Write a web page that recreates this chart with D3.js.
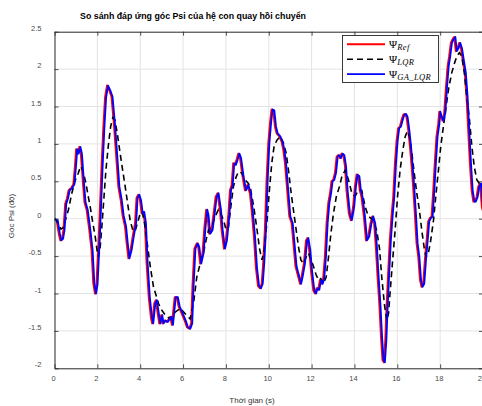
<!DOCTYPE html>
<html>
<head>
<meta charset="utf-8">
<script src="https://cdn.jsdelivr.net/npm/d3@7"></script>
<style>
  html, body { margin: 0; padding: 0; background: #fff; overflow: hidden; }
  svg { display: block; }
</style>
</head>
<body>
<svg id="chart" width="482" height="406"></svg>
<script>
// Tick values
const xTicks = [0, 2, 4, 6, 8, 10, 12, 14, 16, 18, 20];
const yTicks = [-2, -1.5, -1, -0.5, 0, 0.5, 1, 1.5, 2, 2.5];

// Reference trajectory Ψ_Ref: [time (s), angle (deg)]
const refSeries = [
  [0,0],[0.1,-0.02],[0.2,-0.2],[0.27,-0.29],[0.35,-0.27],[0.42,-0.15],[0.5,0.2],[0.58,0.27],
  [0.66,0.38],[0.78,0.41],[0.88,0.46],[0.96,0.72],[1.01,0.93],[1.08,0.87],[1.16,0.96],[1.23,0.87],
  [1.33,0.47],[1.4,0.22],[1.5,0.12],[1.62,-0.14],[1.73,-0.42],[1.81,-0.86],[1.89,-1.0],[1.96,-0.88],
  [2.08,-0.16],[2.2,0.72],[2.28,1.22],[2.36,1.62],[2.45,1.78],[2.55,1.72],[2.66,1.63],[2.77,1.28],
  [2.87,0.88],[2.98,0.43],[3.09,0.25],[3.18,0.04],[3.29,-0.1],[3.37,-0.33],[3.45,-0.53],[3.55,-0.42],
  [3.65,-0.24],[3.76,-0.06],[3.83,0.28],[3.91,0.32],[3.99,0.25],[4.07,0.07],[4.14,0.09],[4.22,-0.06],
  [4.3,-0.6],[4.4,-1.05],[4.5,-1.32],[4.56,-1.4],[4.66,-1.13],[4.73,-1.09],[4.82,-1.27],[4.89,-1.4],
  [4.98,-1.29],[5.04,-1.4],[5.13,-1.36],[5.24,-1.38],[5.4,-1.31],[5.48,-1.42],[5.55,-1.22],[5.61,-1.05],
  [5.71,-1.05],[5.8,-1.18],[5.94,-1.27],[6.1,-1.38],[6.18,-1.45],[6.29,-1.47],[6.38,-1.4],[6.44,-0.91],
  [6.53,-0.4],[6.64,-0.33],[6.71,-0.38],[6.8,-0.6],[6.91,-0.46],[7.0,-0.11],[7.08,0.12],[7.14,0.05],
  [7.22,-0.2],[7.33,-0.15],
  [7.41,0.03],[7.52,0.29],[7.61,0.34],[7.72,0.12],[7.8,-0.15],[7.91,-0.4],[8.0,-0.29],[8.11,0.03],
  [8.19,0.38],[8.27,0.45],[8.34,0.74],[8.42,0.72],[8.5,0.79],[8.58,0.87],[8.66,0.81],[8.78,0.56],
  [8.89,0.38],[9.0,0.45],[9.12,0.34],[9.2,0.12],[9.31,-0.24],[9.4,-0.65],[9.5,-0.9],[9.59,-0.93],
  [9.67,-0.87],[9.74,-0.6],[9.82,-0.15],[9.9,0.52],[9.98,1.01],[10.06,1.28],[10.13,1.46],[10.21,1.45],
  [10.29,1.23],[10.37,1.14],[10.49,1.1],[10.6,1.03],[10.68,0.92],[10.76,0.74],[10.86,0.38],[10.96,0.03],
  [11.07,-0.06],[11.14,-0.29],[11.25,-0.64],[11.38,-0.78],[11.46,-0.87],[11.53,-0.78],[11.64,-0.6],[11.74,-0.29],
  [11.8,-0.26],[11.89,-0.42],[11.97,-0.69],[12.08,-0.96],[12.16,-1.0],[12.23,-0.93],[12.31,-0.95],[12.39,-0.82],
  [12.47,-0.87],[12.54,-0.8],[12.62,-0.51],[12.7,-0.06],[12.78,0.21],[12.86,0.34],[12.93,0.5],[13.01,0.52],
  [13.09,0.61],[13.17,0.83],[13.24,0.85],[13.32,0.81],[13.4,0.87],[13.48,0.85],[13.56,0.7],[13.63,0.38],
  [13.74,0.07],[13.83,-0.02],[13.94,0.16],[14.02,0.43],[14.1,0.59],[14.18,0.57],[14.25,0.38],[14.33,0.29],
  [14.44,0.03],[14.54,-0.29],[14.64,-0.24],[14.75,-0.06],[14.83,0.03],[14.92,-0.06],
  [15.0,-0.38],[15.08,-0.78],[15.16,-1.13],[15.24,-1.58],[15.31,-1.89],[15.37,-1.92],[15.44,-1.63],[15.5,-1.18],
  [15.58,-0.69],[15.65,-0.29],[15.73,0.03],[15.81,0.29],[15.89,0.74],[15.97,1.05],[16.04,1.21],[16.12,1.23],
  [16.2,1.32],[16.28,1.39],[16.36,1.4],[16.43,1.36],[16.51,1.19],[16.59,0.97],[16.67,0.7],[16.74,0.43],
  [16.82,0.07],[16.9,-0.33],[16.98,-0.51],[17.06,-0.82],[17.13,-0.91],[17.21,-0.87],[17.29,-0.55],[17.37,-0.29],
  [17.44,-0.04],[17.52,0.01],[17.6,0.03],[17.68,0.38],[17.75,0.74],[17.83,1.1],[17.91,1.26],[17.96,1.43],
  [18.02,1.37],[18.11,1.31],[18.19,1.41],[18.27,1.75],[18.35,2.04],[18.42,2.17],[18.5,2.35],[18.58,2.4],
  [18.66,2.43],[18.73,2.24],[18.81,2.28],[18.89,2.35],[18.97,2.28],[19.05,2.13],[19.15,1.95],[19.23,1.64],
  [19.31,1.19],[19.39,0.74],[19.47,0.38],[19.55,0.23],[19.62,0.23],[19.7,0.29],[19.78,0.43],[19.86,0.47],
  [19.95,0.15],[20,0.1]
];

// Response with the plain LQR controller
const lqrSeries = [
  [0,0],[0.15,-0.05],[0.3,-0.14],[0.4,-0.12],[0.55,0.02],[0.65,0.12],[0.8,0.33],[0.95,0.5],
  [1.1,0.6],[1.22,0.7],[1.32,0.65],[1.47,0.47],[1.58,0.29],[1.69,0.12],[1.79,-0.06],[1.9,-0.24],
  [2.0,-0.45],[2.05,-0.51],[2.12,-0.42],[2.2,-0.15],[2.29,0.21],[2.4,0.65],[2.51,0.97],[2.62,1.23],
  [2.72,1.35],[2.82,1.32],[2.93,1.14],[3.06,0.88],[3.18,0.65],[3.3,0.43],[3.41,0.21],[3.53,-0.02],
  [3.65,-0.15],[3.76,-0.17],[3.87,-0.06],[4.0,0.07],[4.1,0.09],[4.2,-0.06],[4.31,-0.29],[4.47,-0.64],
  [4.62,-0.91],[4.85,-1.13],[5.0,-1.22],[5.17,-1.29],[5.4,-1.34],[5.63,-1.25],[5.87,-1.2],[6.1,-1.27],
  [6.33,-1.34],[6.49,-1.13],[6.64,-0.78],[6.8,-0.6],[6.95,-0.46],[7.11,-0.24],[7.19,-0.15],[7.34,-0.11],
  [7.5,0.03],[7.65,0.12],[7.76,0.07],[7.89,-0.02],
  [8.01,-0.15],[8.12,-0.11],[8.23,0.16],[8.35,0.43],[8.48,0.56],[8.59,0.63],[8.74,0.61],[8.9,0.52],
  [9.05,0.47],[9.15,0.4],[9.21,0.3],[9.3,0.16],[9.44,-0.12],[9.57,-0.4],[9.68,-0.55],[9.79,-0.42],
  [9.91,-0.06],[10.03,0.38],[10.14,0.74],[10.25,0.97],[10.38,1.05],[10.53,1.1],[10.69,1.01],[10.81,0.88],
  [10.92,0.65],[11.03,0.38],[11.15,0.12],[11.28,-0.15],[11.39,-0.38],[11.5,-0.55],[11.62,-0.6],[11.75,-0.51],
  [11.85,-0.46],[11.98,-0.55],[12.09,-0.64],[12.21,-0.75],[12.32,-0.82],[12.43,-0.8],[12.55,-0.87],[12.68,-0.78],
  [12.79,-0.51],[12.9,-0.2],[13.02,0.07],[13.15,0.29],[13.3,0.43],[13.41,0.56],[13.57,0.65],[13.72,0.52],
  [13.88,0.34],[14.03,0.3],[14.19,0.38],[14.34,0.38],[14.5,0.16],[14.65,0.03],[14.8,0.0],[14.92,-0.05],
  [15.04,-0.16],[15.17,-0.4],[15.28,-0.8],[15.4,-1.15],[15.51,-1.36],[15.59,-1.27],
  [15.66,-1.0],[15.77,-0.6],[15.9,-0.15],[16.01,0.29],[16.13,0.65],[16.26,0.92],[16.37,1.1],[16.47,1.17],
  [16.57,1.1],[16.68,0.88],[16.79,0.61],[16.91,0.34],[17.03,0.12],[17.14,-0.15],[17.25,-0.38],[17.34,-0.51],
  [17.45,-0.46],[17.56,-0.29],[17.69,-0.02],[17.81,0.34],[17.92,0.65],[18.03,0.97],[18.15,1.23],[18.28,1.5],
  [18.39,1.73],[18.54,1.95],[18.67,2.08],[18.78,2.17],[18.9,2.22],[19.01,2.17],[19.13,1.95],[19.24,1.64],
  [19.37,1.32],[19.48,0.97],[19.59,0.7],[19.71,0.52],[19.83,0.47],[20,0.45]
];

// Response with the GA-tuned LQR controller
const gaSeries = [
  [0,0],[0.15,-0.02],[0.25,-0.2],[0.32,-0.29],[0.40,-0.27],[0.47,-0.15],[0.55,0.2],[0.63,0.27],
  [0.71,0.38],[0.83,0.41],[0.93,0.46],[1.01,0.72],[1.06,0.93],[1.13,0.87],[1.21,0.96],[1.28,0.87],
  [1.38,0.47],[1.45,0.22],[1.55,0.12],[1.67,-0.14],[1.78,-0.42],[1.86,-0.86],[1.94,-1.0],[2.01,-0.88],
  [2.13,-0.16],[2.25,0.72],[2.33,1.22],[2.41,1.62],[2.50,1.78],[2.60,1.72],[2.71,1.63],[2.82,1.28],
  [2.92,0.88],[3.03,0.43],[3.14,0.25],[3.23,0.04],[3.34,-0.1],[3.42,-0.33],[3.50,-0.53],[3.60,-0.42],
  [3.70,-0.24],[3.81,-0.06],[3.88,0.28],[3.96,0.32],[4.04,0.25],[4.12,0.07],[4.19,0.09],[4.27,-0.06],
  [4.35,-0.6],[4.45,-1.05],[4.55,-1.32],[4.61,-1.4],[4.71,-1.13],[4.78,-1.09],[4.87,-1.27],[4.94,-1.4],
  [5.03,-1.29],[5.09,-1.4],[5.18,-1.36],[5.29,-1.38],[5.45,-1.31],[5.53,-1.42],[5.60,-1.22],[5.66,-1.05],
  [5.76,-1.05],[5.85,-1.18],[5.99,-1.27],[6.15,-1.38],[6.23,-1.45],[6.34,-1.47],[6.43,-1.4],[6.49,-0.91],
  [6.58,-0.4],[6.69,-0.33],[6.76,-0.38],[6.85,-0.6],[6.96,-0.46],[7.05,-0.11],[7.13,0.12],[7.19,0.05],
  [7.27,-0.2],[7.38,-0.15],
  [7.46,0.03],[7.57,0.29],[7.66,0.34],[7.77,0.12],[7.85,-0.15],[7.96,-0.4],[8.05,-0.29],[8.16,0.03],
  [8.24,0.38],[8.32,0.45],[8.39,0.74],[8.47,0.72],[8.55,0.79],[8.63,0.87],[8.71,0.81],[8.83,0.56],
  [8.94,0.38],[9.05,0.45],[9.17,0.34],[9.25,0.12],[9.36,-0.24],[9.45,-0.65],[9.55,-0.9],[9.64,-0.93],
  [9.72,-0.87],[9.79,-0.6],[9.87,-0.15],[9.95,0.52],[10.03,1.01],[10.11,1.28],[10.18,1.46],[10.26,1.45],
  [10.34,1.23],[10.42,1.14],[10.54,1.1],[10.65,1.03],[10.73,0.92],[10.81,0.74],[10.91,0.38],[11.01,0.03],
  [11.12,-0.06],[11.19,-0.29],[11.30,-0.64],[11.43,-0.78],[11.51,-0.87],[11.58,-0.78],[11.69,-0.6],[11.79,-0.29],
  [11.85,-0.26],[11.94,-0.42],[12.02,-0.69],[12.13,-0.96],[12.21,-1.0],[12.28,-0.93],[12.36,-0.95],[12.44,-0.82],
  [12.52,-0.87],[12.59,-0.8],[12.67,-0.51],[12.75,-0.06],[12.83,0.21],[12.91,0.34],[12.98,0.5],[13.06,0.52],
  [13.14,0.61],[13.22,0.83],[13.29,0.85],[13.37,0.81],[13.45,0.87],[13.53,0.85],[13.61,0.7],[13.68,0.38],
  [13.79,0.07],[13.88,-0.02],[13.99,0.16],[14.07,0.43],[14.15,0.59],[14.23,0.57],[14.30,0.38],[14.38,0.29],
  [14.49,0.03],[14.59,-0.29],[14.69,-0.24],[14.80,-0.06],[14.88,0.03],[14.97,-0.06],
  [15.05,-0.38],[15.13,-0.78],[15.21,-1.13],[15.29,-1.58],[15.36,-1.89],[15.42,-1.92],[15.49,-1.63],[15.55,-1.18],
  [15.63,-0.69],[15.70,-0.29],[15.78,0.03],[15.86,0.29],[15.94,0.74],[16.02,1.05],[16.09,1.21],[16.17,1.23],
  [16.25,1.32],[16.33,1.39],[16.41,1.4],[16.48,1.36],[16.56,1.19],[16.64,0.97],[16.72,0.7],[16.79,0.43],
  [16.87,0.07],[16.95,-0.33],[17.03,-0.51],[17.11,-0.82],[17.18,-0.91],[17.26,-0.87],[17.34,-0.55],[17.42,-0.29],
  [17.49,-0.04],[17.57,0.01],[17.65,0.03],[17.73,0.38],[17.80,0.74],[17.88,1.1],[17.96,1.26],[18.01,1.43],
  [18.07,1.37],[18.16,1.31],[18.24,1.41],[18.32,1.75],[18.40,2.04],[18.47,2.17],[18.55,2.35],[18.63,2.4],
  [18.71,2.43],[18.78,2.24],[18.86,2.28],[18.94,2.35],[19.02,2.28],[19.10,2.13],[19.20,1.95],[19.28,1.64],
  [19.36,1.19],[19.44,0.74],[19.52,0.38],[19.60,0.23],[19.67,0.23],[19.75,0.29],[19.83,0.43],[19.91,0.47],
  [20.00,0.15]
];

(function drawChart() {
  const svg = d3.select("#chart");
  const plotLeft = 54.5, plotRight = 483, plotTop = 31.7, plotBottom = 368.3;

  const x = d3.scaleLinear().domain([0, 20]).range([plotLeft, plotRight]);
  const y = d3.scaleLinear().domain([-2, 2.5]).range([plotBottom, plotTop]);

  const axisColor = "#262626";
  const labelColor = "#4a4a4a";
  const sans = "'Liberation Sans', Arial, Helvetica, sans-serif";

  // Grid
  const grid = svg.append("g");
  grid.selectAll("line.gx").data(xTicks.slice(1, -1)).join("line")
    .attr("x1", d => x(d)).attr("x2", d => x(d))
    .attr("y1", plotTop).attr("y2", plotBottom)
    .attr("stroke", "#e3e3e3").attr("stroke-width", 1);
  grid.selectAll("line.gy").data(yTicks.slice(1, -1)).join("line")
    .attr("x1", plotLeft).attr("x2", plotRight)
    .attr("y1", d => y(d)).attr("y2", d => y(d))
    .attr("stroke", "#e3e3e3").attr("stroke-width", 1);

  // Curves
  svg.append("clipPath").attr("id", "plot-clip")
    .append("rect").attr("x", plotLeft).attr("y", plotTop)
    .attr("width", plotRight - plotLeft).attr("height", plotBottom - plotTop);

  const line = d3.line().x(d => x(d[0])).y(d => y(d[1]));
  const curves = svg.append("g").attr("clip-path", "url(#plot-clip)");

  curves.append("path").datum(refSeries)
    .attr("d", line).attr("fill", "none")
    .attr("stroke", "#ff0000").attr("stroke-width", 2).attr("stroke-linejoin", "round");
  curves.append("path").datum(lqrSeries)
    .attr("d", line).attr("fill", "none")
    .attr("stroke", "#000").attr("stroke-width", 1.6).attr("stroke-dasharray", "6,4");
  curves.append("path").datum(gaSeries)
    .attr("d", line).attr("fill", "none")
    .attr("stroke", "#0000ff").attr("stroke-width", 1.8).attr("stroke-linejoin", "round");

  // Axes
  const xAxisB = d3.axisBottom(x).tickValues(xTicks).tickFormat(d3.format("d"))
    .tickSizeInner(-4).tickSizeOuter(0).tickPadding(7);
  const gxb = svg.append("g").attr("transform", `translate(0,${plotBottom})`).call(xAxisB);
  gxb.selectAll("text").attr("dx", "-1.5");

  const xAxisT = d3.axisTop(x).tickValues(xTicks).tickFormat("")
    .tickSizeInner(-4).tickSizeOuter(0);
  svg.append("g").attr("transform", `translate(0,${plotTop})`).call(xAxisT);

  const yAxisL = d3.axisLeft(y).tickValues(yTicks).tickFormat(d => String(d))
    .tickSizeInner(-4).tickSizeOuter(0).tickPadding(13);
  const gyl = svg.append("g").attr("transform", `translate(${plotLeft},0)`).call(yAxisL);
  gyl.selectAll("text").attr("dy", "-0.2em");

  const yAxisR = d3.axisRight(y).tickValues(yTicks).tickFormat("")
    .tickSizeInner(-4).tickSizeOuter(0);
  svg.append("g").attr("transform", `translate(${plotRight},0)`).call(yAxisR);

  svg.selectAll(".domain").attr("stroke", axisColor).attr("stroke-width", 1);
  svg.selectAll(".tick line").attr("stroke", axisColor).attr("stroke-width", 0.8);
  svg.selectAll(".tick text").attr("fill", labelColor)
    .style("font-family", sans).style("font-size", "7.5px");

  // Title and axis labels
  svg.append("text").attr("x", 193).attr("y", 19).attr("text-anchor", "middle")
    .style("font-family", sans).style("font-size", "8.8px").style("font-weight", "bold")
    .attr("fill", "#000")
    .text("So sánh đáp ứng góc Psi của hệ con quay hồi chuyển");

  svg.append("text").attr("x", 252).attr("y", 403).attr("text-anchor", "middle")
    .style("font-family", sans).style("font-size", "8px").attr("fill", "#333")
    .text("Thời gian (s)");

  svg.append("text").attr("transform", "translate(14,216) rotate(-90)")
    .attr("text-anchor", "middle")
    .style("font-family", sans).style("font-size", "8px").attr("fill", "#333")
    .text("Góc Psi (độ)");

  // Legend
  const legendItems = [
    { sub: "Ref", color: "#ff0000", dash: null, width: 2 },
    { sub: "LQR", color: "#000", dash: "6,4", width: 1.6 },
    { sub: "GA_LQR", color: "#0000ff", dash: null, width: 1.8 }
  ];
  const lg = svg.append("g");
  lg.append("rect").attr("x", 342.5).attr("y", 35.5).attr("width", 96).attr("height", 47)
    .attr("fill", "#fff").attr("stroke", axisColor).attr("stroke-width", 0.9);
  const rows = lg.selectAll("g.item").data(legendItems).join("g")
    .attr("transform", (d, i) => `translate(0,${44.3 + i * 14.9})`);
  rows.append("line").attr("x1", 347).attr("x2", 385).attr("y1", 0).attr("y2", 0)
    .attr("stroke", d => d.color).attr("stroke-width", d => d.width)
    .attr("stroke-dasharray", d => d.dash);
  const lt = rows.append("text").attr("x", 389).attr("y", 3.5)
    .style("font-family", "'Liberation Serif', 'DejaVu Serif', serif").attr("fill", "#000");
  lt.append("tspan").style("font-size", "11px").text("Ψ");
  lt.append("tspan").attr("dy", 2.5).style("font-size", "8.5px").style("font-style", "italic")
    .style("letter-spacing", "0.4px")
    .text(d => d.sub);
})();
</script>
</body>
</html>
